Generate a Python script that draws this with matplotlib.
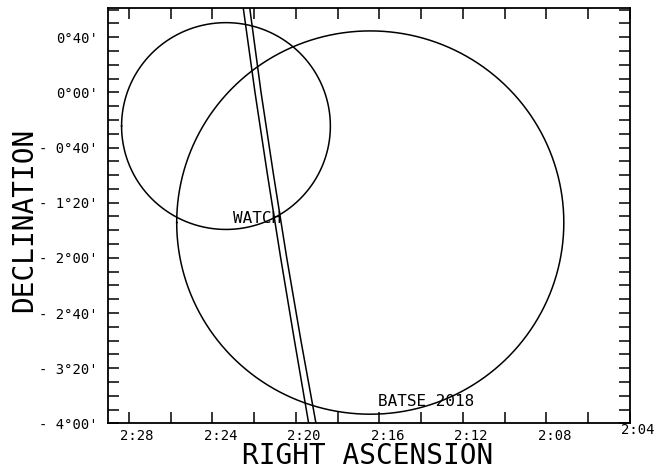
import numpy as np
import matplotlib
matplotlib.use("Agg")
import matplotlib.pyplot as plt
from matplotlib.transforms import ScaledTranslation

# Axis ranges: RA in minutes past 2h (decreasing to the right), Dec in arcmin
ra_left, ra_right = 29.0, 4.0
dec_bottom, dec_top = -240.0, 61.0

ra_tick_values = [28, 26, 24, 22, 20, 18, 16, 14, 12, 10, 8, 6, 4]
ra_tick_labels = ["2:28", "", "2:24", "", "2:20", "", "2:16", "", "2:12", "", "2:08", "", "2:04"]
dec_minor_values = list(range(-240, 61, 10))
dec_major_values = [40, 0, -40, -80, -120, -160, -200, -240]
dec_major_labels = ["0°40'", "0°00'", "- 0°40'", "- 1°20'", "- 2°00'",
                    "- 2°40'", "- 3°20'", "- 4°00'"]

# Error circles: centre RA (min), centre Dec (arcmin), radius (arcmin)
watch_center_ra, watch_center_dec, watch_radius = 23.35, -24.4, 75.0
batse_center_ra, batse_center_dec, batse_radius = 16.44, -94.4, 139.0

# IPN annulus (two edges)
band_dec = [61, 0, -60, -120, -180, -240]
band_ra_east = [22.52, 21.96, 21.36, 20.73, 20.07, 19.39]
band_ra_west = [22.21, 21.67, 21.07, 20.44, 19.76, 19.04]

# Labels
watch_label_pos = (23.0, -91.1)
batse_label_pos = (16.05, -224.2)

MONO = ["DejaVu Sans Mono"]

fig = plt.figure(figsize=(6.68, 4.70), dpi=100)
ax = fig.add_axes([108/668, 1 - 423.3/470, (630-108)/668, (423.3-8.3)/470])
ax.set_xlim(ra_left, ra_right)
ax.set_ylim(dec_bottom, dec_top)


def circle(c_ra, c_dec, r):
    t = np.linspace(0, 2*np.pi, 721)
    dec = c_dec + r*np.sin(t)
    ra = c_ra + r*np.cos(t)/(15.0*np.cos(np.radians(c_dec/60.0)))
    return ra, dec


for c_ra, c_dec, r in [(watch_center_ra, watch_center_dec, watch_radius),
                       (batse_center_ra, batse_center_dec, batse_radius)]:
    xr, yr = circle(c_ra, c_dec, r)
    ax.plot(xr, yr, color="black", lw=1.1)

ax.plot(band_ra_east, band_dec, color="black", lw=1.1)
ax.plot(band_ra_west, band_dec, color="black", lw=1.1)

ax.text(*watch_label_pos, "WATCH", ha="left", va="center", fontsize=11.5, family=MONO)
ax.text(*batse_label_pos, "BATSE 2018", ha="left", va="center", fontsize=11.5, family=MONO)

# Ticks
ax.set_xticks(ra_tick_values)
ax.set_xticklabels(ra_tick_labels, family=MONO, fontsize=10)
ax.set_yticks(dec_minor_values, minor=True)
ax.set_yticks(dec_major_values)
ax.set_yticklabels(dec_major_labels, family=MONO, fontsize=10)
ax.tick_params(axis="both", which="both", direction="in", length=8, width=1.1,
               top=True, right=True, labeltop=False, labelright=False)
ax.tick_params(axis="x", pad=4)
ax.tick_params(axis="y", pad=7.5)
for s in ax.spines.values():
    s.set_linewidth(1.3)

off = ScaledTranslation(8/100, 0, fig.dpi_scale_trans)
for lab in ax.get_xticklabels():
    lab.set_transform(lab.get_transform() + off)
lab04 = ax.get_xticklabels()[-1]
lab04.set_transform(lab04.get_transform() + ScaledTranslation(0, 6/100, fig.dpi_scale_trans))

fig.text(368/668, 1 - 464/470, "RIGHT ASCENSION", ha="center", va="baseline",
         fontsize=20, family=MONO)
fig.text(24/668, 1 - 220/470, "DECLINATION", ha="center", va="center",
         rotation=90, fontsize=20, family=MONO)

fig.savefig("out.png", dpi=100)
